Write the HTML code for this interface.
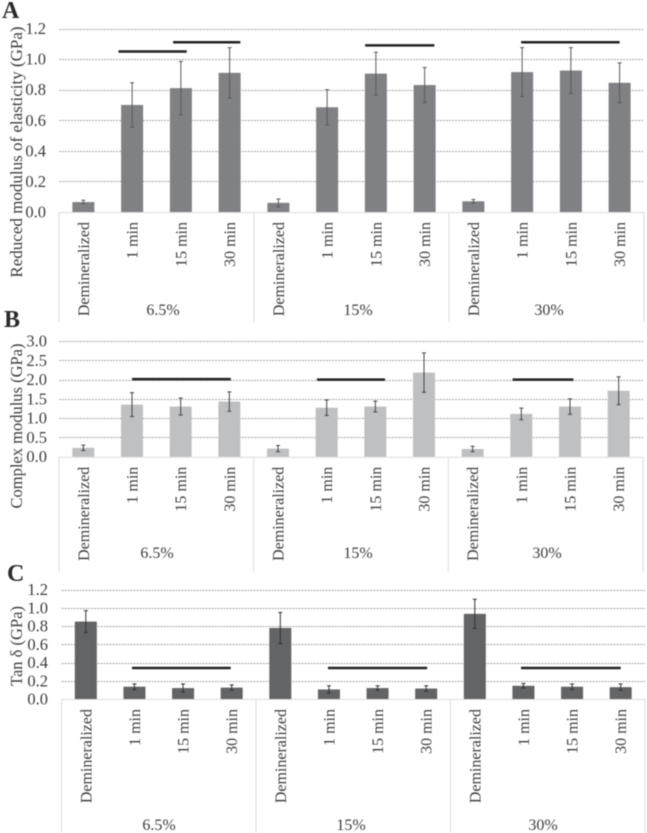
<!DOCTYPE html>
<html lang="en">
<head>
<meta charset="utf-8">
<title>Nanoindentation moduli by etchant concentration and time</title>
<style>
html,body{margin:0;padding:0;background:#fff;width:647px;height:833px;overflow:hidden}
svg{display:block;filter:blur(.4px)}
text{font-family:"Liberation Serif","DejaVu Serif",serif;fill:#3d3d3d}
</style>
</head>
<body>
<svg id="figure" width="647" height="833" viewBox="0 0 647 833" xmlns="http://www.w3.org/2000/svg"></svg>
<script>
// Shared categories
const categories = ["Demineralized", "1 min", "15 min", "30 min", "Demineralized", "1 min", "15 min", "30 min", "Demineralized", "1 min", "15 min", "30 min"];
const groups = ["6.5%", "15%", "30%"];

// Panel A: reduced modulus
const ticksA = [0.0, 0.2, 0.4, 0.6, 0.8, 1.0, 1.2];
const valuesA = [0.065, 0.70, 0.81, 0.91, 0.06, 0.685, 0.905, 0.83, 0.07, 0.915, 0.925, 0.845];
const errorsA = [0.012, 0.145, 0.175, 0.165, 0.025, 0.115, 0.14, 0.115, 0.012, 0.16, 0.15, 0.13];
// significance bars: first category position, last category position, value level
const sigA = [[0.72, 2.12, 1.05], [1.84, 3.22, 1.11], [5.78, 7.2, 1.09], [8.98, 11.0, 1.11]];

// Panel B: complex modulus
const ticksB = [0.0, 0.5, 1.0, 1.5, 2.0, 2.5, 3.0];
const valuesB = [0.23, 1.35, 1.30, 1.43, 0.21, 1.27, 1.30, 2.18, 0.20, 1.11, 1.30, 1.71];
const errorsB = [0.07, 0.31, 0.22, 0.25, 0.08, 0.20, 0.14, 0.51, 0.07, 0.15, 0.20, 0.36];
const sigB = [[1.0, 3.03, 2.01], [4.8, 6.2, 2.0], [8.82, 10.07, 2.0]];

// Panel C: tan delta
const ticksC = [0.0, 0.2, 0.4, 0.6, 0.8, 1.0, 1.2];
const valuesC = [0.85, 0.135, 0.12, 0.125, 0.78, 0.105, 0.12, 0.115, 0.935, 0.145, 0.135, 0.13];
const errorsC = [0.12, 0.03, 0.045, 0.03, 0.17, 0.04, 0.025, 0.03, 0.16, 0.025, 0.03, 0.035];
const sigC = [[0.95, 2.98, 0.34], [4.98, 7.02, 0.34], [8.95, 11.0, 0.34]];

const NS = "http://www.w3.org/2000/svg";
const svg = document.getElementById("figure");

function mk(tag, attrs, parent, name) {
  const el = document.createElementNS(NS, tag);
  for (const k in attrs) el.setAttribute(k, attrs[k]);
  
  
  parent.appendChild(el);
  return el;
}

function drawPanel(p) {
  const g = mk("g", {}, svg, "panel-" + p.id.toLowerCase());
  const maxTick = p.ticks[p.ticks.length - 1];
  const yScale = v => p.y0 - (v / maxTick) * (p.y0 - p.yTop);
  const xScale = i => p.x0 + (i + 0.5) * (p.x1 - p.x0) / categories.length;
  const fmt = v => v.toFixed(1);

  // panel letter
  const letter = mk("text", {x: p.letterX, y: p.letterY, "font-size": 24, "font-weight": "bold"}, g, "panel-letter");
  letter.style.fill = "#2b2b2b";
  letter.textContent = p.id;

  // y axis title
  const title = mk("text", {transform: "translate(" + p.titleX + " " + p.titleY + ") rotate(-90)", "text-anchor": "middle", "font-size": p.titleSize}, g, "y-axis-title");
  title.textContent = p.title;

  // gridlines and tick labels
  p.ticks.forEach(t => {
    if (t > 0) {
      const gy = Math.round(yScale(t)) + 0.5;
      mk("line", {x1: p.x0, x2: p.x1, y1: gy, y2: gy, stroke: "#a6a6a6", "stroke-width": 1, "stroke-dasharray": "2 1"}, g, "gridline");
    }
    const lab = mk("text", {x: p.tickX, y: yScale(t) + 5.5, "text-anchor": "end", "font-size": 16.5}, g, "y-tick-label");
    lab.textContent = fmt(t);
  });

  // multi-level category axis
  mk("line", {x1: p.x0, x2: p.x1, y1: p.y0 + 0.5, y2: p.y0 + 0.5, stroke: "#dcdcdc", "stroke-width": 1}, g, "x-axis-line");
  for (let s = 0; s <= groups.length; s++) {
    const sx = p.x0 + s * (p.x1 - p.x0) / groups.length;
    mk("line", {x1: sx, x2: sx, y1: p.y0, y2: p.sepBottom, stroke: "#dcdcdc", "stroke-width": 1}, g, "group-separator");
  }
  categories.forEach((c, i) => {
    const lab = mk("text", {transform: "translate(" + (xScale(i) + 5.5) + " " + (p.y0 + 10) + ") rotate(-90)", "text-anchor": "end", "font-size": 16}, g, "x-category-label");
    lab.textContent = c;
  });
  groups.forEach((name, i) => {
    const lab = mk("text", {x: p.groupX[i], y: p.groupY, "text-anchor": "middle", "font-size": 16}, g, "group-label");
    lab.textContent = name;
  });

  // bars and error bars
  p.values.forEach((v, i) => {
    const cx = xScale(i);
    mk("rect", {x: cx - 11, y: yScale(v), width: 22, height: p.y0 - yScale(v), fill: p.color}, g, "bar");
    const hi = yScale(v + p.errors[i]);
    const lo = yScale(v - p.errors[i]);
    mk("line", {x1: cx, x2: cx, y1: hi, y2: lo, stroke: p.errColor, "stroke-width": 1}, g, "error-bar");
    mk("line", {x1: cx - 2, x2: cx + 2, y1: hi, y2: hi, stroke: p.errColor, "stroke-width": 1}, g, "error-cap");
    mk("line", {x1: cx - 2, x2: cx + 2, y1: lo, y2: lo, stroke: p.errColor, "stroke-width": 1}, g, "error-cap");
  });

  // significance bars
  p.sig.forEach(s => {
    mk("line", {x1: xScale(s[0]), x2: xScale(s[1]), y1: yScale(s[2]), y2: yScale(s[2]), stroke: "#222", "stroke-width": 2.5}, g, "significance-bar");
  });
}

drawPanel({
  id: "A", title: "Reduced modulus of elasticity (GPa)", titleX: 22, titleY: 152, titleSize: 17,
  letterX: 2, letterY: 18, tickX: 46,
  x0: 59, x1: 644, y0: 212, yTop: 28.5, sepBottom: 322,
  groupX: [163, 358, 549], groupY: 315,
  ticks: ticksA, values: valuesA, errors: errorsA, sig: sigA,
  color: "#808184", errColor: "#5a5a5a"
});

drawPanel({
  id: "B", title: "Complex modulus (GPa)", titleX: 22, titleY: 426, titleSize: 16.5,
  letterX: 4, letterY: 327, tickX: 47,
  x0: 59, x1: 643, y0: 456.7, yTop: 341, sepBottom: 572,
  groupX: [157, 358, 547], groupY: 558,
  ticks: ticksB, values: valuesB, errors: errorsB, sig: sigB,
  color: "#bfc0c1", errColor: "#444"
});

drawPanel({
  id: "C", title: "Tan \u03b4 (GPa)", titleX: 22, titleY: 646, titleSize: 16.5,
  letterX: 7, letterY: 581, tickX: 48,
  x0: 61.5, x1: 645, y0: 699, yTop: 589.7, sepBottom: 833,
  groupX: [159, 351, 543], groupY: 830,
  ticks: ticksC, values: valuesC, errors: errorsC, sig: sigC,
  color: "#636466", errColor: "#333"
});
</script>
</body>
</html>
